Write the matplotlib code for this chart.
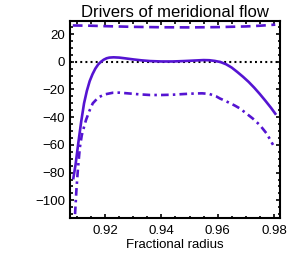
import numpy as np
import matplotlib
matplotlib.use("Agg")
import matplotlib.pyplot as plt
from matplotlib.ticker import MultipleLocator

plt.rcParams['font.family'] = ['Liberation Sans', 'DejaVu Sans']
plt.rcParams['lines.scale_dashes'] = False

# values
r_solid = [0.9087, 0.9095, 0.9105, 0.9115, 0.9125, 0.9135, 0.9145, 0.9155, 0.9165,
           0.9175, 0.9185, 0.9195, 0.9205, 0.9215, 0.923, 0.925, 0.927, 0.930, 0.933,
           0.936, 0.940, 0.944, 0.948, 0.952, 0.955, 0.957, 0.959, 0.961, 0.963, 0.965,
           0.967, 0.969, 0.971, 0.973, 0.975, 0.977, 0.979, 0.9805]
v_solid = [-84, -74, -58, -43, -30, -21, -14, -9, -5,
           -2, 0, 1.5, 2.5, 3.0, 3.2, 3.0, 2.5, 1.7, 1.0,
           0.5, 0.2, 0.2, 0.5, 0.9, 1.2, 1.1, 0.6, -0.2, -1.8, -4.2,
           -7.4, -10.8, -14.5, -18.7, -23.3, -28.2, -33.3, -37.5]

r_dashdot = [0.9093, 0.9098, 0.9103, 0.9110, 0.9117, 0.9125, 0.9132, 0.9145, 0.9156,
             0.917, 0.918, 0.920, 0.9227, 0.925, 0.928, 0.932, 0.936, 0.940, 0.944,
             0.948, 0.952, 0.9545, 0.957, 0.9595, 0.9608, 0.963, 0.966, 0.9679, 0.970,
             0.9725, 0.975, 0.9775, 0.9797]
v_dashdot = [-110, -92, -78, -62, -53, -47, -42, -35, -30,
             -27, -25.3, -23.5, -22.4, -22.3, -22.8, -23.5, -24, -24, -23.8,
             -23.3, -22.9, -22.8, -23.2, -25, -26.5, -28.5, -31.5, -33.7, -37,
             -41, -45.7, -52, -60]

r_dashed = [0.9085, 0.915, 0.92, 0.93, 0.94, 0.95, 0.96, 0.97, 0.975, 0.9805]
v_dashed = [26.2, 26.0, 25.7, 25.2, 24.9, 24.8, 25.0, 25.5, 26.0, 26.8]

col = '#5514D2'

fig = plt.figure(figsize=(3.0, 2.63), dpi=100)
ax = fig.add_axes([0.2333, 0.170, 0.6984, 0.749])

ax.axhline(0, color='black', lw=1.5, dashes=(1.4, 2.3))
ax.plot(r_dashed, v_dashed, color=col, lw=1.9, dashes=(7, 4))
ax.plot(r_solid, v_solid, color=col, lw=1.9)
ax.plot(r_dashdot, v_dashdot, color=col, lw=1.9, dashes=(5.5, 3, 1.8, 3))

ax.set_xlim(0.9075, 0.982)
ax.set_ylim(-113, 29.2)
ax.xaxis.set_major_locator(MultipleLocator(0.02))
ax.xaxis.set_minor_locator(MultipleLocator(0.005))
ax.yaxis.set_major_locator(MultipleLocator(20))
ax.yaxis.set_minor_locator(MultipleLocator(5))
ax.xaxis.set_major_formatter(matplotlib.ticker.FormatStrFormatter('%.2f'))

ax.tick_params(which='both', direction='in', top=True, right=True, width=1.2, labelsize=9.5)
ax.tick_params(which='major', length=3.2)
ax.tick_params(which='minor', length=1.8)
ax.tick_params(axis='x', pad=5)
ax.tick_params(axis='y', pad=3.5)
for s in ax.spines.values():
    s.set_linewidth(1.5)

ax.set_title('Drivers of meridional flow', fontsize=12, pad=3)
ax.set_xlabel('Fractional radius', fontsize=9.5, labelpad=1)

fig.savefig('out.png', dpi=100)
